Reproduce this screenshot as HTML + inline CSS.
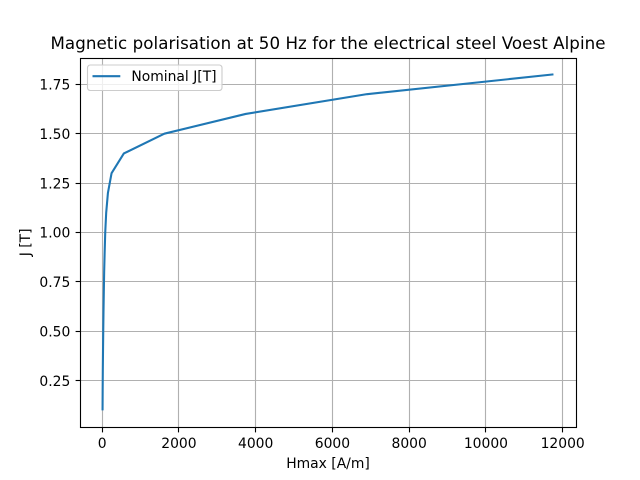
<!DOCTYPE html>
<html>
<head>
<meta charset="utf-8">
<title>Magnetic polarisation chart</title>
<style>
html,body{margin:0;padding:0;background:#fff;width:640px;height:480px;overflow:hidden}
svg{display:block}
text{font-family:"DejaVu Sans",sans-serif;font-size:13.89px;fill:#000}
</style>
</head>
<body>
<svg id="chart" xmlns="http://www.w3.org/2000/svg" width="640" height="480" viewBox="0 0 640 480">
<rect x="0" y="0" width="640" height="480" fill="#fff"/>
<g id="grid"></g>
<g id="series"></g>
<rect x="80.5" y="58.5" width="496" height="369" fill="none" stroke="#000" stroke-width="1.11"/>
<g id="ticks"></g>
<text x="328" y="49" text-anchor="middle" textLength="555" lengthAdjust="spacing" style="font-size:16.67px">Magnetic polarisation at 50 Hz for the electrical steel Voest Alpine</text>
<text x="328" y="468" text-anchor="middle">Hmax [A/m]</text>
<text transform="translate(30 242.4) rotate(-90)" text-anchor="middle">J [T]</text>
<g>
<rect x="87.5" y="65" width="134.5" height="25.5" rx="2.8" ry="2.8" fill="#fff" fill-opacity="0.8" stroke="#ccc" stroke-width="1.11"/>
<line x1="92.5" y1="76.2" x2="120.3" y2="76.2" stroke="#1f77b4" stroke-width="2.08"/>
<text x="131.4" y="81">Nominal J[T]</text>
</g>
</svg>
<script>
const hmaxValues = [10, 13, 17, 22, 28, 35, 43, 52, 65, 80, 105, 150, 245, 565, 1620, 3740, 6900, 11760];
const jValues = [0.1, 0.2, 0.3, 0.4, 0.5, 0.6, 0.7, 0.8, 0.9, 1.0, 1.1, 1.2, 1.3, 1.4, 1.5, 1.6, 1.7, 1.8];
const xTickValues = [0, 2000, 4000, 6000, 8000, 10000, 12000];
const xTickLabels = ["0", "2000", "4000", "6000", "8000", "10000", "12000"];
const yTickValues = [0.25, 0.5, 0.75, 1.0, 1.25, 1.5, 1.75];
const yTickLabels = ["0.25", "0.50", "0.75", "1.00", "1.25", "1.50", "1.75"];

const NS = "http://www.w3.org/2000/svg";
const plotLeft = 80, plotRight = 576, plotTop = 57.6, plotBottom = 427.2;
const xLo = Math.min(...hmaxValues), xHi = Math.max(...hmaxValues);
const yLo = Math.min(...jValues), yHi = Math.max(...jValues);
const xPad = (xHi - xLo) * 0.05, yPad = (yHi - yLo) * 0.05;
function xScale(v) {
  return plotLeft + (v - (xLo - xPad)) / ((xHi - xLo) + 2 * xPad) * (plotRight - plotLeft);
}
function yScale(v) {
  return plotBottom - (v - (yLo - yPad)) / ((yHi - yLo) + 2 * yPad) * (plotBottom - plotTop);
}
function snap(p) {
  return Math.round(p - 0.5) + 0.5;
}
function make(tag, attrs, parent) {
  const el = document.createElementNS(NS, tag);
  for (const k in attrs) el.setAttribute(k, attrs[k]);
  parent.appendChild(el);
  return el;
}
const gridG = document.getElementById("grid");
const ticksG = document.getElementById("ticks");
const seriesG = document.getElementById("series");

xTickValues.forEach(function (v, i) {
  const x = snap(xScale(v));
  const g = make("line", {x1: x, x2: x, y1: 58.5, y2: 427.5, stroke: "#b0b0b0", "stroke-width": 1.11}, gridG);
  
  
  const t = make("line", {x1: x, x2: x, y1: 427.5, y2: 432.4, stroke: "#000", "stroke-width": 1.11}, ticksG);
  
  
  const l = make("text", {x: xScale(v), y: 448, "text-anchor": "middle"}, ticksG);
  
  
  l.textContent = xTickLabels[i];
});
yTickValues.forEach(function (v, i) {
  const y = snap(yScale(v));
  const g = make("line", {x1: 80.5, x2: 576.5, y1: y, y2: y, stroke: "#b0b0b0", "stroke-width": 1.11}, gridG);
  
  
  const t = make("line", {x1: 75.6, x2: 80.5, y1: y, y2: y, stroke: "#000", "stroke-width": 1.11}, ticksG);
  
  
  const l = make("text", {x: 70.3, y: yScale(v) + 5.2, "text-anchor": "end"}, ticksG);
  
  
  l.textContent = yTickLabels[i];
});
const points = hmaxValues.map(function (h, i) {
  return xScale(h).toFixed(2) + "," + yScale(jValues[i]).toFixed(2);
}).join(" ");
const curve = make("polyline", {points: points, fill: "none", stroke: "#1f77b4", "stroke-width": 2.08, "stroke-linejoin": "round"}, seriesG);


</script>
</body>
</html>
